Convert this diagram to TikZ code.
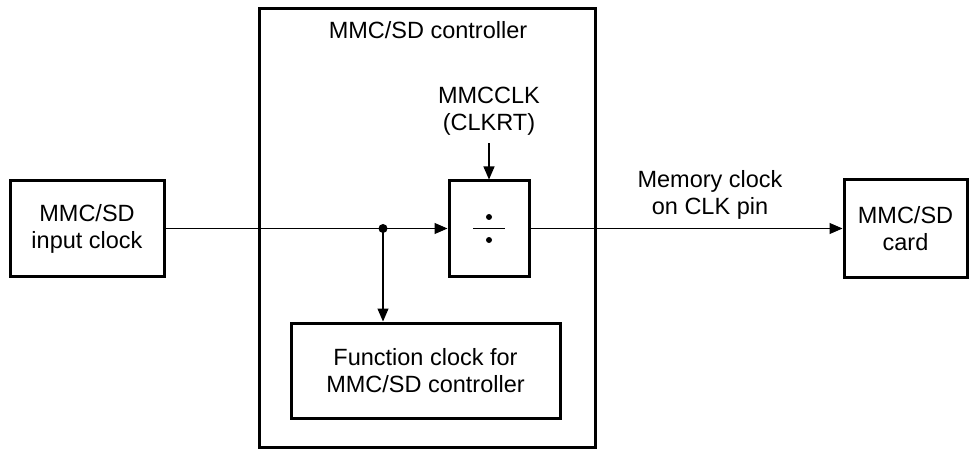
\documentclass[tikz,border=0pt]{standalone}
\usepackage{fontspec}
\setmainfont{Liberation Sans}
\usetikzlibrary{arrows.meta}
\begin{document}
\begin{tikzpicture}[x=1pt,y=-1pt,
  box/.style={draw, line width=3pt, inner sep=0pt, align=center,
    font=\fontsize{23.5}{27}\selectfont},
  lbl/.style={inner sep=0pt, align=center, font=\fontsize{23.5}{27}\selectfont},
  conn/.style={line width=1.1pt, -{Triangle[length=13pt,width=11pt]}},
  wire/.style={line width=1.1pt}]
\useasboundingbox (0,0) rectangle (977,449);
\node[box, minimum width=154pt, minimum height=96pt] (in) at (87,228.5) {MMC/SD\\input clock};
\node[box, minimum width=336pt, minimum height=439pt] (ctrl) at (427,228) {};
\node[lbl] (ctrllbl) at (428,30) {MMC/SD controller};
\node[box, minimum width=80pt, minimum height=95pt] (div) at (489,228.5) {};
\node[box, minimum width=269pt, minimum height=95pt] (func) at (425.5,370.5) {Function clock for\\MMC/SD controller};
\node[box, minimum width=123pt, minimum height=97pt] (card) at (905.5,228.5) {MMC/SD\\card};
\node[lbl] (clk) at (489,111) {MMCCLK\\(CLKRT)};
\node[lbl] (mem) at (710,195) {Memory clock\\on CLK pin};
\coordinate (j) at (383,228.5);
% divider symbol
\fill (489,217) circle (3pt);
\fill (489,240) circle (3pt);
\draw[line width=1.4pt] (473,228.5) -- (505,228.5);
% connectors
\draw[wire] (in.east) -- (j);
\draw[conn] (j) -- (div.west);
\draw[conn] (j) -- (j |- func.north);
\fill (j) circle (4.5pt);
\draw[conn] (clk.south) ++(0,8) -- (div.north);
\draw[conn] (div.east) -- (card.west);
\end{tikzpicture}
\end{document}
